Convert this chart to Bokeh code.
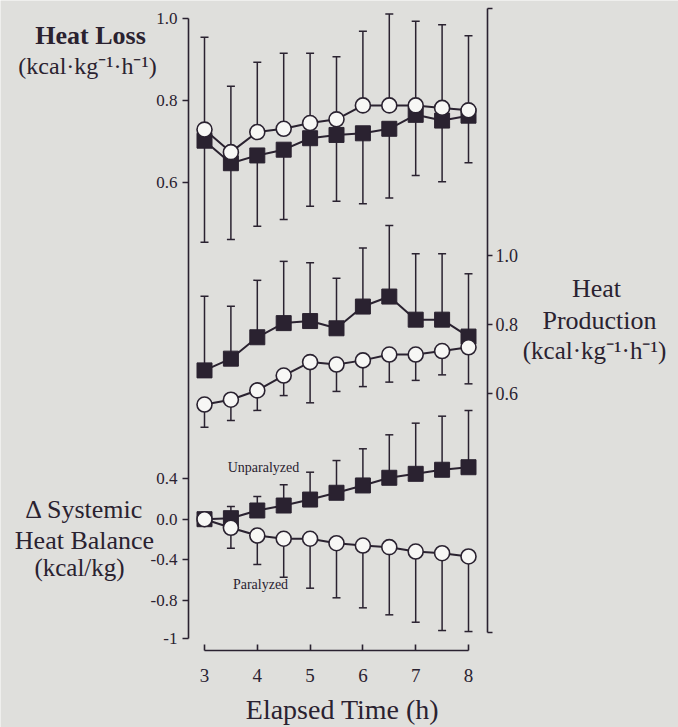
from bokeh.plotting import figure
from bokeh.models import Range1d, LinearAxis, FixedTicker, Label
from bokeh.embed import file_html
from bokeh.resources import INLINE

# ---------------- data ----------------
hours = [3, 3.5, 4, 4.5, 5, 5.5, 6, 6.5, 7, 7.5, 8]

# Heat loss (kcal/kg/h) - top panel, left axis
loss_unpar = [0.702, 0.647, 0.666, 0.680, 0.708, 0.716, 0.720, 0.731, 0.765, 0.751, 0.763]
loss_unpar_lo = [0.454, 0.461, 0.493, 0.510, 0.542, 0.554, 0.548, 0.562, 0.617, 0.602, 0.648]
loss_par = [0.729, 0.674, 0.723, 0.731, 0.745, 0.754, 0.788, 0.788, 0.788, 0.782, 0.776]
loss_par_hi = [0.954, 0.835, 0.893, 0.915, 0.915, 0.907, 0.969, 1.011, 0.993, 0.985, 0.958]

# Heat production (kcal/kg/h) - middle panel, right axis
prod_unpar = [0.667, 0.701, 0.763, 0.804, 0.810, 0.789, 0.852, 0.881, 0.814, 0.814, 0.765]
prod_unpar_hi = [0.882, 0.853, 0.928, 0.983, 0.979, 0.934, 1.022, 1.087, 1.005, 1.005, 0.947]
prod_par = [0.568, 0.582, 0.609, 0.652, 0.691, 0.684, 0.696, 0.713, 0.713, 0.723, 0.734]
prod_par_lo = [0.502, 0.522, 0.551, 0.594, 0.573, 0.606, 0.620, 0.633, 0.638, 0.654, 0.628]

# Delta systemic heat balance (kcal/kg) - bottom panel, left axis
bal_unpar = [0.0, 0.010, 0.086, 0.135, 0.194, 0.261, 0.333, 0.409, 0.448, 0.488, 0.513]
bal_unpar_hi = [0.0, 0.125, 0.224, 0.340, 0.464, 0.579, 0.695, 0.833, 0.948, 1.017, 1.073]
bal_par = [0.0, -0.085, -0.161, -0.193, -0.193, -0.237, -0.260, -0.276, -0.319, -0.336, -0.368]
bal_par_lo = [0.0, -0.286, -0.447, -0.573, -0.681, -0.776, -0.875, -0.944, -1.017, -1.099, -1.109]

# ticks and tick labels
hour_ticks = [3, 4, 5, 6, 7, 8]
loss_ticks = [0.6, 0.8, 1.0]
loss_tick_labels = ["0.6", "0.8", "1.0"]
prod_ticks = [0.6, 0.8, 1.0]
prod_tick_labels = ["0.6", "0.8", "1.0"]
bal_ticks = [0.4, 0.0, -0.4, -0.8, -1.18]
bal_tick_labels = ["0.4", "0.0", "-0.4", "-0.8", "-1"]

# ---------------- layout helpers (pixel -> range) ----------------
W, H = 678, 727
BG = "#dfdfdc"
INK = "#2a2230"
SERIF = "Liberation Serif"


def px2x(px):
    return 3 + (px - 204.0) / 52.8


def loss_y(py):
    return 1.0 - (py - 18.0) / 410.0


def prod_y(py):
    return 1.0 - (py - 255.0) / 345.0


def bal_y(py):
    return (518.7 - py) / 101.3


p = figure(width=W, height=H,
           x_range=Range1d(px2x(0), px2x(W)),
           y_range=Range1d(loss_y(H), loss_y(0)),
           output_backend="svg", toolbar_location=None,
           x_axis_location=None, y_axis_location=None,
           min_border=0, outline_line_color=None,
           background_fill_color=BG, border_fill_color=BG)
p.grid.grid_line_color = None
p.extra_y_ranges = {"hp": Range1d(prod_y(H), prod_y(0)),
                    "hb": Range1d(bal_y(H), bal_y(0))}


def style_axis(ax, size):
    ax.major_label_text_font = SERIF
    ax.major_label_text_font_size = f"{size}px"
    ax.major_label_text_color = INK
    ax.axis_line_color = INK
    ax.axis_line_width = 1.6
    ax.major_tick_line_color = INK
    ax.major_tick_line_width = 1.6
    ax.minor_tick_line_color = None


# left axis: heat loss (line spans whole left side)
ax_loss = LinearAxis(ticker=FixedTicker(ticks=loss_ticks),
                     bounds=(loss_y(638), 1.0), fixed_location=px2x(188))
style_axis(ax_loss, 17)
ax_loss.major_tick_out = 6
ax_loss.major_tick_in = 0
ax_loss.major_label_standoff = 5
ax_loss.major_label_overrides = {t: s for t, s in zip(loss_ticks, loss_tick_labels)}
p.add_layout(ax_loss, "left")

# left axis: heat balance
ax_bal = LinearAxis(y_range_name="hb", ticker=FixedTicker(ticks=bal_ticks),
                    fixed_location=px2x(188))
style_axis(ax_bal, 17)
ax_bal.axis_line_color = None
ax_bal.major_tick_out = 6
ax_bal.major_tick_in = 0
ax_bal.major_label_standoff = 5
ax_bal.major_label_overrides = {t: s for t, s in zip(bal_ticks, bal_tick_labels)}
p.add_layout(ax_bal, "left")

# right axis: heat production
prod_lo_end, prod_hi_end = prod_y(632), prod_y(8)
ax_prod = LinearAxis(y_range_name="hp",
                     ticker=FixedTicker(ticks=[prod_lo_end] + prod_ticks + [prod_hi_end]),
                     bounds=(prod_lo_end, prod_hi_end), fixed_location=px2x(487))
style_axis(ax_prod, 18)
ax_prod.major_tick_out = 5
ax_prod.major_tick_in = 0
ax_prod.major_label_standoff = 3
ov = {t: s for t, s in zip(prod_ticks, prod_tick_labels)}
ov[prod_lo_end] = ""
ov[prod_hi_end] = ""
ax_prod.major_label_overrides = ov
p.add_layout(ax_prod, "right")

# x axis
ax_x = LinearAxis(ticker=FixedTicker(ticks=hour_ticks), bounds=(3, 8),
                  fixed_location=loss_y(650))
style_axis(ax_x, 19)
ax_x.major_tick_in = 6
ax_x.major_tick_out = 0
ax_x.major_label_standoff = 18
p.add_layout(ax_x, "below")


# ---------------- error bars ----------------
def bars(ys, ends, rng=None):
    kw = {} if rng is None else {"y_range_name": rng}
    p.segment(x0=hours, y0=ys, x1=hours, y1=ends, line_color=INK, line_width=1.5, **kw)
    p.scatter(x=hours, y=ends, marker="dash", size=8, line_color=INK, line_width=1.5, **kw)


bars(loss_unpar, loss_unpar_lo)
bars(loss_par, loss_par_hi)
bars(prod_unpar, prod_unpar_hi, "hp")
bars(prod_par, prod_par_lo, "hp")
bars(bal_unpar, bal_unpar_hi, "hb")
bars(bal_par, bal_par_lo, "hb")


def squares(ys, rng=None):
    kw = {} if rng is None else {"y_range_name": rng}
    p.line(x=hours, y=ys, line_color=INK, line_width=2, **kw)
    p.scatter(x=hours, y=ys, marker="square", size=15, fill_color=INK,
              line_color=INK, line_width=1, **kw)


def circles(ys, rng=None):
    kw = {} if rng is None else {"y_range_name": rng}
    p.line(x=hours, y=ys, line_color=INK, line_width=2, **kw)
    p.scatter(x=hours, y=ys, marker="circle", size=15, fill_color="#f7f7f5",
              line_color=INK, line_width=1.6, **kw)


squares(loss_unpar)
squares(prod_unpar, "hp")
squares(bal_unpar, "hb")
circles(loss_par)
circles(prod_par, "hp")
circles(bal_par, "hb")


# ---------------- texts ----------------
def label(text, cx, base_py, size, bold=False):
    # Bokeh anchors the "alphabetic" baseline at the bottom of the text box,
    # so lift it by the descent to land the glyph baseline at base_py.
    p.add_layout(Label(x=px2x(cx), y=loss_y(base_py - 0.4 * size), text=text,
                       text_align="center", text_baseline="alphabetic",
                       text_font=SERIF, text_font_size=f"{size}px",
                       text_font_style="bold" if bold else "normal",
                       text_color=INK))


label("Heat Loss", 90, 45, 26, bold=True)
label("(kcal\u00b7kg\u207b\u00b9\u00b7h\u207b\u00b9)", 87, 75, 24)
label("\u0394 Systemic", 84, 519, 26)
label("Heat Balance", 84, 550, 26)
label("(kcal/kg)", 79, 577, 25)
label("Heat", 596, 298, 26)
label("Production", 599, 330, 26)
label("(kcal\u00b7kg\u207b\u00b9\u00b7h\u207b\u00b9)", 594, 360, 25)
label("Elapsed Time (h)", 342, 720, 28)
label("Unparalyzed", 263, 473, 14)
label("Paralyzed", 260, 590, 14)

open("out.html", "w").write(file_html(p, INLINE))
